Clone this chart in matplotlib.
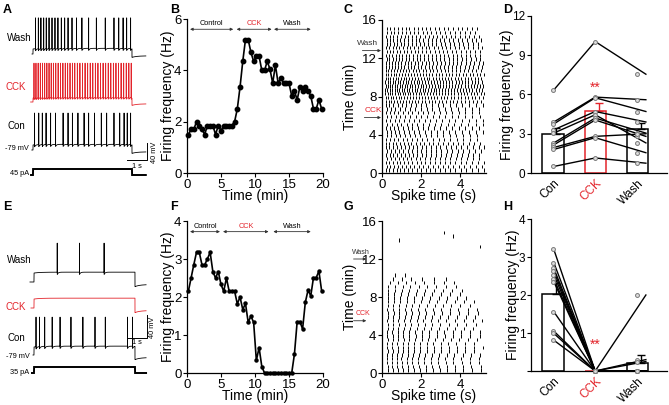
import numpy as np
import matplotlib
matplotlib.use('Agg')
import matplotlib.pyplot as plt

plt.rcParams['font.family'] = ['Liberation Sans', 'DejaVu Sans']

W, H = 669, 405
RED = '#e3242b'

# ---------------- data ----------------
STEP_DUR = 5.0      # s
REST_MV = -79

# A / E: spike times (s after current step onset)
A_WASH_SPIKES = [0.13, 0.27, 0.40, 0.54, 0.67, 0.81, 0.96, 1.11, 1.26, 1.43, 1.60, 1.77,
                 1.97, 2.20, 2.47, 2.81, 3.20, 3.65, 4.09, 4.33, 4.55, 4.73, 4.93]
A_CCK_SPIKES = [0.05, 0.15, 0.26, 0.37, 0.48, 0.59, 0.70, 0.81, 0.92, 1.03, 1.15, 1.27,
                1.39, 1.51, 1.63, 1.75, 1.87, 1.99, 2.11, 2.24, 2.37, 2.50, 2.63, 2.76,
                2.89, 3.02, 3.15, 3.28, 3.41, 3.54, 3.67, 3.80, 3.93, 4.06, 4.19, 4.32,
                4.45, 4.58, 4.71, 4.84, 4.96]
A_CON_SPIKES = [0.08, 0.29, 0.47, 0.66, 0.89, 1.14, 1.52, 1.77, 1.99, 2.27, 2.58, 2.81,
                3.11, 3.45, 3.72, 4.09, 4.38, 4.60, 4.76, 4.93]
E_WASH_SPIKES = [1.15, 2.25, 3.47]
E_CCK_SPIKES = []
E_CON_SPIKES = [0.10, 0.27, 0.53, 0.90, 1.29, 1.83, 2.42, 3.02, 3.53, 4.63, 4.88]
A_STEP_PA = 45
E_STEP_PA = 35

# B / F: firing frequency time course
B_TIME = [0.2, 0.6, 1.0, 1.4, 1.8, 2.2, 2.6, 3.0, 3.4, 3.8, 4.2, 4.6, 5.0, 5.4, 5.8, 6.2,
          6.6, 7.0, 7.4, 7.8, 8.2, 8.6, 9.0, 9.4, 9.8, 10.2, 10.6, 11.0, 11.4, 11.8, 12.2,
          12.6, 13.0, 13.4, 13.8, 14.2, 14.6, 15.0, 15.4, 15.8, 16.2, 16.6, 17.0, 17.4,
          17.8, 18.2, 18.6, 19.0, 19.4, 19.8]
B_FREQ = [1.5, 1.7, 1.7, 2.0, 1.85, 1.7, 1.5, 1.85, 1.85, 1.85, 1.5, 1.85, 1.65, 1.85,
          1.85, 1.85, 1.85, 2.0, 2.5, 3.35, 4.35, 5.2, 5.2, 4.7, 4.35, 4.55, 4.55, 4.0,
          4.0, 4.35, 4.05, 3.5, 4.2, 3.5, 3.7, 3.5, 3.5, 3.5, 3.0, 3.2, 2.85, 3.35, 3.2,
          3.35, 3.2, 3.0, 2.5, 2.5, 2.85, 2.5]
F_TIME = B_TIME
F_FREQ = [2.15, 2.5, 2.85, 3.18, 3.18, 2.85, 2.85, 3.0, 3.18, 2.67, 2.5, 2.67, 2.33, 2.15,
          2.5, 2.15, 2.15, 2.15, 1.82, 2.0, 1.67, 1.83, 1.33, 1.5, 1.33, 0.33, 0.67, 0.17,
          0, 0, 0, 0, 0, 0, 0, 0, 0, 0, 0,
          0.5, 1.35, 1.35, 1.16, 1.86, 2.18, 2.03, 2.51, 2.51, 2.68, 2.16]

# C / G: raster, one sweep per entry, spike times in 1/100 s
C_SWEEP_MIN = [0.3, 0.7, 1.1, 1.5, 1.9, 2.3, 2.7, 3.1, 3.5, 3.9, 4.3, 4.7, 5.1, 5.5, 5.9,
               6.3, 6.7, 7.1, 7.5, 7.9, 8.3, 8.7, 9.1, 9.5, 9.9, 10.3, 10.7, 11.1, 11.5,
               11.9, 12.3, 12.7, 13.1, 13.5, 13.9, 14.3, 14.7, 15.1]
C_SPIKES_CS = [
    "20 38 56 75 94 114 134 155 177 199 222 246 270 295 321 347 374 402 430 459 489 519",
    "23 42 61 81 101 122 143 165 188 211 235 259 284 310 336 363 391 419 448 478 508",
    "19 37 55 74 93 113 133 154 176 198 221 245 269 294 320 346 373 401 429 458 488 518",
    "24 44 64 85 106 128 150 173 196 220 245 270 296 322 349 377 405 434 464 494",
    "20 39 57 76 96 116 137 158 180 203 226 250 275 300 326 353 380 408 437 466 496",
    "25 45 66 87 109 131 154 177 201 226 251 277 303 330 358 386 415 445 475 506",
    "20 38 57 76 95 115 136 157 179 202 225 249 273 298 324 350 377 405 433 462 492 521",
    "18 36 54 72 91 110 130 150 171 192 214 237 260 284 309 334 360 386 413 441 470 499",
    "22 42 63 84 106 129 153 178 204 231 259 288 318 349 381 414 448 483",
    "26 47 69 92 116 141 167 194 222 251 281 312 344 377 411 446 482",
    "23 44 66 89 113 138 164 191 219 248 278 309 341 374 408 443 479 515",
    "20 40 61 83 106 130 155 181 208 236 265 295 326 358 391 425 460 496",
    "27 50 74 99 125 152 180 209 239 270 302 335 369 404 440 477 515",
    "21 42 64 87 111 136 162 189 217 246 276 307 339 372 406 441 477 514",
    "25 47 70 94 119 145 172 200 229 259 290 322 355 389 424 460 497",
    "20 40 61 83 106 130 155 181 208 236 265 295 326 358 391 425 460 496",
    "23 45 68 92 117 143 170 198 227 257 288 320 353 387 422 458 495",
    "19 38 58 79 101 124 148 173 199 226 254 283 313 344 376 409 443 478 514",
    "20 34 48 62 77 92 107 122 138 154 170 186 203 220 237 254 272 290 308 326 345 364 "
    "383 402 422 442 462 482 502",
    "18 31 44 57 71 85 99 113 127 142 157 172 187 202 218 234 250 266 282 299 316 333 "
    "350 367 385 403 421 439 457 475 494 513",
    "17 29 41 53 66 79 92 105 118 131 145 159 173 187 201 215 230 245 260 275 290 305 "
    "321 337 353 369 385 401 418 435 452 469 486 503 520",
    "17 28 40 52 64 76 88 101 114 127 140 153 166 179 193 207 221 235 249 263 277 292 "
    "307 322 337 352 367 382 397 413 429 445 461 477 493 509",
    "18 29 41 53 65 77 90 103 116 129 142 155 169 183 197 211 225 239 253 268 283 298 "
    "313 328 343 358 373 389 405 421 437 453 469 485 501 517",
    "17 29 41 54 67 80 93 106 120 134 148 162 176 190 205 220 235 250 265 280 295 311 "
    "327 343 359 375 391 407 423 440 457 474 491 508",
    "18 30 43 56 69 82 96 110 124 138 152 167 182 197 212 227 242 258 274 290 306 322 "
    "338 354 370 387 404 421 438 455 472 489 506",
    "19 32 45 59 73 87 101 116 131 146 161 176 192 208 224 240 256 273 290 307 324 341 "
    "358 375 393 411 429 447 465 483 501 519",
    "19 33 47 62 77 92 108 124 140 157 174 191 208 226 244 262 281 300 319 338 358 378 "
    "398 418 439 460 481 502",
    "22 36 51 66 82 98 114 131 148 165 183 201 219 238 257 276 296 316 336 357 378 399 "
    "421 443 465 488 511",
    "21 36 51 67 83 99 116 133 150 168 186 204 223 242 261 281 301 321 342 363 384 405 "
    "427 449 471 493 515",
    "23 38 54 70 87 104 122 140 158 177 196 215 235 255 276 297 318 340 362 384 407 430 "
    "453 477 501",
    "21 37 53 70 87 104 122 140 158 177 196 215 235 255 275 296 317 338 360 382 404 427 "
    "450 473 497",
    "24 40 57 74 92 110 128 147 166 186 206 226 247 268 289 311 333 356 379 402 426 450 "
    "474 499",
    "21 37 54 71 89 107 125 144 163 182 202 222 242 263 284 305 327 349 371 394 417 440 "
    "464 488 512",
    "25 42 59 77 95 114 133 152 172 192 213 234 255 277 299 321 344 367 391 415 439 464 "
    "489",
    "23 40 58 76 94 113 132 151 171 191 211 232 253 274 296 318 340 363 386 409 433 457 "
    "481 506",
    "22 40 58 77 96 115 135 155 175 196 217 238 260 282 304 327 350 373 397 421 445 470 495",
    "26 44 63 82 102 122 143 164 185 207 229 252 275 298 322 346 371 396 421 447 473",
    "24 42 61 80 100 120 140 161 182 203 225 247 269 292 315 338 362 386 410 435 460 485",
]

G_SWEEP_MIN = [0.3, 0.7, 1.1, 1.5, 1.9, 2.3, 2.7, 3.1, 3.5, 3.9, 4.3, 4.7, 5.1, 5.5, 5.9,
               6.3, 6.7, 7.1, 7.5, 7.9, 8.3, 8.7, 9.1, 9.5, 9.9, 10.3,
               13.3, 14.0, 14.4, 14.8]
G_SPIKES_CS = [
    "30 55 80 106 133 162 192 224 258 294 332 372 414 458 504",
    "29 53 78 104 131 160 190 222 256 292 330 370 412 456 502",
    "28 51 75 100 126 154 184 216 250 286 324 364 406 450 496",
    "27 50 74 99 125 153 183 215 249 285 323 363 405 449 495",
    "28 52 77 103 130 159 189 221 255 291 329 369 411 455 501",
    "29 54 80 107 135 165 196 229 264 301 340 381 424 469",
    "28 53 79 106 134 164 195 228 263 300 339 380 423 468 515",
    "27 52 78 105 133 163 194 227 262 299 338 379 422 467",
    "29 55 82 110 139 170 202 236 272 310 350 392 436 482",
    "28 54 81 109 139 171 205 241 279 319 361 405 451 499",
    "27 53 80 108 138 170 204 240 278 318 360 404 450 498",
    "29 56 84 113 144 177 212 249 288 329 372 417 464",
    "30 58 87 117 149 183 219 257 297 339 383 429 477",
    "28 55 83 112 143 176 211 248 287 328 371 416 463 512",
    "29 57 86 116 148 182 218 256 296 338 382 428 476",
    "30 59 89 120 153 188 225 264 305 348 393 440 489",
    "28 56 85 116 149 184 221 260 301 344 389 436 485",
    "29 58 88 120 154 190 228 268 310 354 400 448",
    "30 60 92 126 162 200 240 282 326 372 420 470",
    "29 60 93 128 165 204 245 288 333 380 429",
    "30 62 97 134 173 214 257 302 349 398",
    "31 64 100 138 178 220 264 310 358 408",
    "32 67 105 145 187 231 277 325 375",
    "40 80 123 168 215 264 315 368",
    "55 100 150 205 265 325",
    "66 118",
    "500",
    "89",
    "363",
    "316",
]

# D / H: per-cell firing frequency (Hz) and bar summary
GROUPS = ['Con', 'CCK', 'Wash']
D_CON = [6.35, 3.9, 3.75, 3.3, 3.05, 2.3, 2.15, 1.95, 1.8, 0.5]
D_CCK = [10.05, 5.8, 5.75, 4.7, 4.45, 4.2, 4.05, 2.8, 2.7, 1.15]
D_WASH = [7.55, 5.6, 4.7, 3.9, 2.3, 3.05, 2.8, 3.0, 1.55, 0.75]
D_MEAN = [2.95, 4.75, 3.4]
D_SEM = [0.48, 0.63, 0.42]
H_CON = [3.2, 2.85, 2.7, 2.62, 2.53, 2.42, 2.35, 1.56, 1.05, 0.99, 0.81]
H_CCK = [0, 0, 0, 0, 0, 0, 0, 0, 0, 0, 0]
H_WASH = [0, 0.3, 0, 0, 2.0, 0, 0, 0.25, 0, 0, 0]
H_MEAN = [2.03, 0.0, 0.22]
H_SEM = [0.28, 0.0, 0.19]


# ---------------- helpers ----------------
fig = plt.figure(figsize=(W / 100, H / 100), dpi=100)


def px_axes(x0, y0, x1, y1):
    return fig.add_axes([x0 / W, 1 - y1 / H, (x1 - x0) / W, (y1 - y0) / H])


def px_text(x, y, s, **kw):
    fig.text(x / W, 1 - y / H, s, **kw)


def style_axes(ax, size):
    for side in ('top', 'right'):
        ax.spines[side].set_visible(False)
    for side in ('left', 'bottom'):
        ax.spines[side].set_linewidth(0.9)
    ax.tick_params(direction='out', length=3, width=0.8, labelsize=size, pad=1)


def make_trace(spikes, plateau, amp, ahp, t0, t1, dt=0.002):
    t = np.arange(t0, t1, dt)
    v = np.full(t.shape, float(REST_MV))
    on = (t >= 0) & (t < STEP_DUR)
    v[on] = REST_MV + plateau + 1.5 * (1 - np.exp(-t[on] / 0.3))
    for s in spikes:
        m = on & (t > s + dt / 2)
        v[m] -= ahp * np.exp(-(t[m] - s) / 0.05)
    for s in spikes:
        v[np.argmin(np.abs(t - s))] = REST_MV + plateau + amp
    off = t >= STEP_DUR
    v[off] = REST_MV - 8 * (0.55 + 0.45 * np.exp(-(t[off] - STEP_DUR) / 0.25))
    return t, v


def current_trace(t0, t1, dt=0.002):
    t = np.arange(t0, t1, dt)
    i = np.where((t >= 0) & (t < STEP_DUR), 1.0, 0.0)
    return t, i


def trace_panel(box, t_scale, v_scale, onset_px, traces, step_y, t_end, bar_px, bar_py):
    x0, y0, x1, y1 = box
    ax = px_axes(*box)
    ax.set_xlim((x0 - onset_px) / t_scale, (x1 - onset_px) / t_scale)
    ax.set_ylim(0, (y1 - y0) / v_scale)
    ax.axis('off')
    for spikes, plateau, amp, ahp, rest_py, color, t_start in traces:
        t, v = make_trace(spikes, plateau, amp, ahp, t_start, t_end)
        offset = (y1 - rest_py) / v_scale - REST_MV
        ax.plot(t, v + offset, color=color, lw=0.6)
    t, i = current_trace(-0.1, t_end)
    ax.plot(t, (y1 - step_y) / v_scale + i * 6 / v_scale, color='k', lw=1.4,
            solid_joinstyle='miter')
    # scale bars: 40 mV, 1 s
    bx = (bar_px - onset_px) / t_scale
    by = (y1 - bar_py) / v_scale
    ax.plot([bx - 1, bx, bx], [by, by, by + 40], color='k', lw=0.7)
    return ax


# ---------------- A ----------------
trace_panel((20, 8, 168, 182), 19.8, 0.42, 33,
            [(A_WASH_SPIKES, 12, 74, 5, 54, 'k', -0.05),
             (A_CCK_SPIKES, 9.5, 83, 4, 102, RED, -0.12),
             (A_CON_SPIKES, 12, 76, 5, 150, 'k', -0.06)],
            175, 5.7, 147, 160)
px_text(7, 38, 'Wash', fontsize=7, va='center')
px_text(6, 87, 'CCK', fontsize=7, va='center', color=RED)
px_text(7, 126, 'Con', fontsize=7, va='center')
px_text(29, 148, '-79 mV', fontsize=5.3, va='center', ha='right')
px_text(29, 174, f'{A_STEP_PA} pA', fontsize=5.3, va='center', ha='right')
px_text(137, 166, '1 s', fontsize=5.3, va='center', ha='center')
px_text(154, 152, '40 mV', fontsize=5.3, va='center', ha='center', rotation=90)

# ---------------- E ----------------
trace_panel((20, 205, 168, 380), 20.2, 0.575, 34,
            [(E_WASH_SPIKES, 15.6, 52, 4, 282, 'k', -0.2),
             (E_CCK_SPIKES, 15.6, 0, 0, 308, RED, -0.15),
             (E_CON_SPIKES, 13.9, 52, 4, 355, 'k', -0.05)],
            373, 5.55, 147, 338)
px_text(7, 260, 'Wash', fontsize=7, va='center')
px_text(6, 307, 'CCK', fontsize=7, va='center', color=RED)
px_text(7, 338, 'Con', fontsize=7, va='center')
px_text(30, 356, '-79 mV', fontsize=5.3, va='center', ha='right')
px_text(29, 373, f'{E_STEP_PA} pA', fontsize=5.3, va='center', ha='right')
px_text(137, 343, '1 s', fontsize=5.3, va='center', ha='center')
px_text(153, 327, '40 mV', fontsize=5.3, va='center', ha='center', rotation=90)


# ---------------- B / F ----------------
def time_course(box, times, freq, ymax, yticks, ms, arrows, arrow_y):
    ax = px_axes(*box)
    ax.plot(times, freq, '-o', color='k', lw=1.2, ms=ms, clip_on=False)
    ax.set_xlim(0, 20)
    ax.set_ylim(0, ymax)
    ax.set_xticks([0, 5, 10, 15, 20])
    ax.set_yticks(yticks)
    style_axes(ax, 9.5)
    ax.set_xlabel('Time (min)', fontsize=10, labelpad=-1)
    ax.set_ylabel('Firing frequency (Hz)', fontsize=10, labelpad=-1)
    for (a, b, name, col) in arrows:
        ax.annotate('', xy=(a, arrow_y), xytext=(b, arrow_y),
                    arrowprops=dict(arrowstyle='<|-|>', lw=0.6, color='#333333',
                                    mutation_scale=4, shrinkA=0, shrinkB=0))
        ax.text((a + b) / 2, arrow_y + ymax * 0.012, name, fontsize=5.3, color=col,
                ha='center', va='bottom')
    return ax


time_course((187, 19, 323, 173), B_TIME, B_FREQ, 6, [0, 2, 4, 6], 3.2,
            [(0.45, 6.8, 'Control', 'k'), (7.3, 12.45, 'CCK', RED),
             (12.8, 18.2, 'Wash', 'k')], 5.6)
time_course((187, 221, 323, 373), F_TIME, F_FREQ, 4, [0, 1, 2, 3, 4], 2.2,
            [(0.45, 4.85, 'Control', 'k'), (5.3, 12.0, 'CCK', RED),
             (12.7, 18.2, 'Wash', 'k')], 3.72)


# ---------------- C / G ----------------
def raster(box, sweeps, spikes_cs, marks, mark_size):
    ax = px_axes(*box)
    spikes = [np.array(s.split(), float) / 100 for s in spikes_cs]
    ax.eventplot(spikes, lineoffsets=sweeps, linelengths=0.36, linewidths=0.7,
                 colors='k')
    ax.set_xlim(0, 5.3)
    ax.set_ylim(0, 16)
    ax.set_xticks([0, 2, 4])
    ax.set_yticks([0, 4, 8, 12, 16])
    style_axes(ax, 9.5)
    ax.set_xlabel('Spike time (s)', fontsize=10, labelpad=-1)
    ax.set_ylabel('Time (min)', fontsize=10, labelpad=3)
    for name, col, y, x_start, x_end, tx in marks:
        ax.annotate('', xy=(x_end, y), xytext=(x_start, y), annotation_clip=False,
                    arrowprops=dict(arrowstyle='-|>', lw=0.6, color='#333333',
                                    mutation_scale=4, shrinkA=0, shrinkB=0))
        ax.text(tx, y + 0.35, name, fontsize=mark_size, color=col, ha='center',
                va='bottom', clip_on=False)
    return ax


raster((382, 20, 486, 173), C_SWEEP_MIN, C_SPIKES_CS,
       [('Wash', '#333333', 12.8, -1.0, -0.05, -0.75),
        ('CCK', RED, 5.8, -0.9, -0.05, -0.45)], 6)
raster((382, 221, 486, 373), G_SWEEP_MIN, G_SPIKES_CS,
       [('Wash', '#333333', 12.0, -1.45, -0.8, -1.05),
        ('CCK', RED, 5.5, -1.45, -0.8, -0.95)], 5)


# ---------------- D / H ----------------
def summary(box, con, cck, wash, mean, sem, ymax, yticks, yticklabels, star_y):
    ax = px_axes(*box)
    x = np.arange(len(GROUPS))
    edge = ['k', RED, 'k']
    ax.bar(x, mean, width=0.5, color='white', edgecolor=edge, linewidth=1.1, zorder=1)
    for xi, m, s, c in zip(x, mean, sem, edge):
        if s > 0:
            ax.errorbar(xi + 0.08, m, yerr=[[0], [s]], color=c, lw=1.0, capsize=3,
                        capthick=1.0, zorder=2)
    for a, b, c in zip(con, cck, wash):
        ax.plot([0.02, 1.0, 2.2], [a, b, c], color='k', lw=1.0, zorder=3)
    for xi, vals in zip(x, (con, cck, wash)):
        ax.plot(np.full(len(vals), xi), vals, 'o', ms=2.8, mfc='#dddddd', mec='#777777',
                mew=0.7, zorder=4, clip_on=False)
    ax.text(1.0, star_y, '**', color=RED, fontsize=10, ha='center', va='center')
    ax.set_xlim(-0.52, 2.7)
    ax.set_ylim(0, ymax)
    ax.set_yticks(yticks)
    ax.set_yticklabels(yticklabels)
    ax.set_xticks(x)
    ax.set_xticklabels(GROUPS, rotation=45, ha='right', rotation_mode='anchor')
    ax.get_xticklabels()[1].set_color(RED)
    style_axes(ax, 8.5)
    ax.tick_params(axis='x', length=0, labelsize=8.5, pad=3)
    ax.set_ylabel('Firing frequency (Hz)', fontsize=10, labelpad=-1)
    return ax


summary((531, 16, 667, 173), D_CON, D_CCK, D_WASH, D_MEAN, D_SEM, 12,
        [0, 3, 6, 9, 12], ['0', '3', '6', '9', '12'], 6.5)
summary((531, 219, 667, 371), H_CON, H_CCK, H_WASH, H_MEAN, H_SEM, 4,
        [0, 1, 2, 3, 4], ['', '1', '2', '3', '4'], 0.7)

# panel letters
for letter, (lx, ly) in zip('ABCDEFGH', [(3, 10), (170, 10), (343, 10), (503, 10),
                                          (3, 207), (170, 207), (343, 207), (503, 207)]):
    px_text(lx, ly, letter, fontsize=9, fontweight='bold', va='center')

fig.savefig('out.png', dpi=100, facecolor='white')
